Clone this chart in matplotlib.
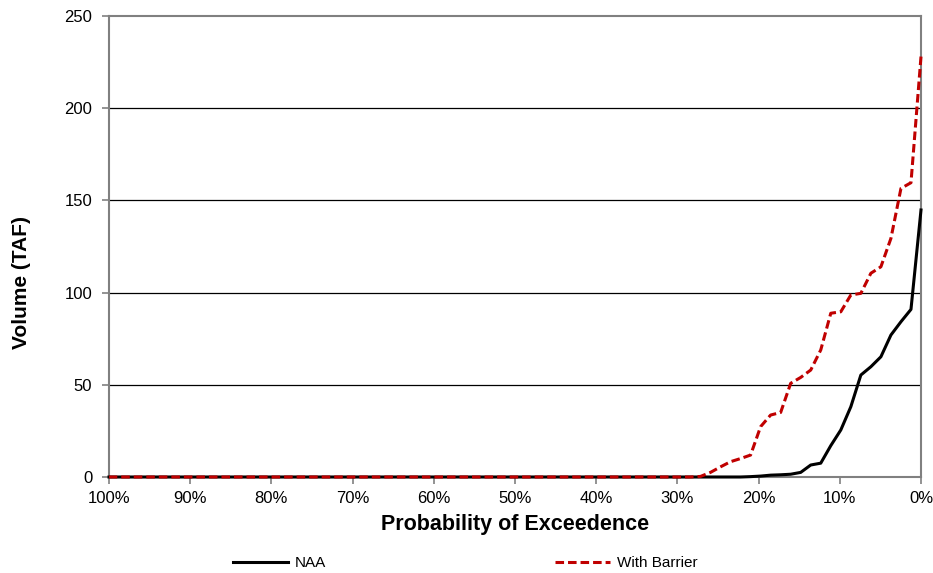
import numpy as np
import matplotlib
matplotlib.use("Agg")
import matplotlib.pyplot as plt
from matplotlib.ticker import FuncFormatter

plt.rcParams['font.family'] = ['Liberation Sans', 'DejaVu Sans']

# Annual volumes (TAF), sorted from largest to smallest
naa = [144.8, 90.9, 84.2, 77.0, 65.2, 59.8, 55.3, 38.1, 25.5, 17.0,
       7.5, 6.5, 2.5, 1.5, 1.2, 1.0, 0.5, 0.2] + [0.0] * 64
with_barrier = [228.0, 159.6, 156.5, 129.4, 114.0, 110.5, 99.6, 98.7, 89.6, 88.8,
                68.9, 58.0, 54.0, 50.8, 35.0, 33.6, 27.3, 11.9, 10.0, 8.3,
                5.5, 2.5, 0.3] + [0.0] * 59

series_labels = ["NAA", "With Barrier"]
x_ticks = [100, 90, 80, 70, 60, 50, 40, 30, 20, 10, 0]
y_ticks = [0, 50, 100, 150, 200, 250]

n = len(naa)
# exceedance probability (percent) for each ranked value
exceed = np.arange(n) / (n - 1) * 100.0

W, H = 933, 573
fig = plt.figure(figsize=(W / 100, H / 100), dpi=100)
ax = fig.add_axes([109 / W, 1 - 477 / H, (921 - 109) / W, (477 - 16) / H])

ax.plot(exceed, naa, color="black", lw=2.2, label=series_labels[0],
        clip_on=False, zorder=3, solid_joinstyle="round")
ax.plot(exceed, with_barrier, color="#C00000", lw=2.2, dashes=(2.8, 1.3),
        label=series_labels[1], clip_on=False, zorder=4)

ax.set_xlim(100, 0)
ax.set_ylim(0, 250)
ax.set_xticks(x_ticks)
ax.xaxis.set_major_formatter(FuncFormatter(lambda v, p: f"{int(round(v))}%"))
ax.set_yticks(y_ticks)

for y in y_ticks[1:-1]:
    ax.axhline(y, color="black", lw=0.9, zorder=1)

for s in ax.spines.values():
    s.set_color("#808080")
    s.set_linewidth(1.5)

ax.tick_params(axis="x", direction="out", length=5, width=1.2, color="#808080",
               labelsize=12, pad=5)
ax.tick_params(axis="y", direction="out", length=5, width=1.2, color="#808080",
               labelsize=12, pad=7)

ax.set_xlabel("Probability of Exceedence", fontsize=15.5, fontweight="bold", labelpad=6)
fig.text(22 / W, 1 - 283 / H, "Volume (TAF)", rotation=90, fontsize=15,
         fontweight="bold", ha="center", va="center")

leg = fig.legend(*ax.get_legend_handles_labels(), loc="center left",
                 bbox_to_anchor=(233 / W, 1 - 563 / H), ncol=2, frameon=False,
                 fontsize=11, handlelength=3.6, handletextpad=0.45,
                 columnspacing=15.0, borderpad=0, borderaxespad=0)

fig.savefig("out.png", dpi=100)
